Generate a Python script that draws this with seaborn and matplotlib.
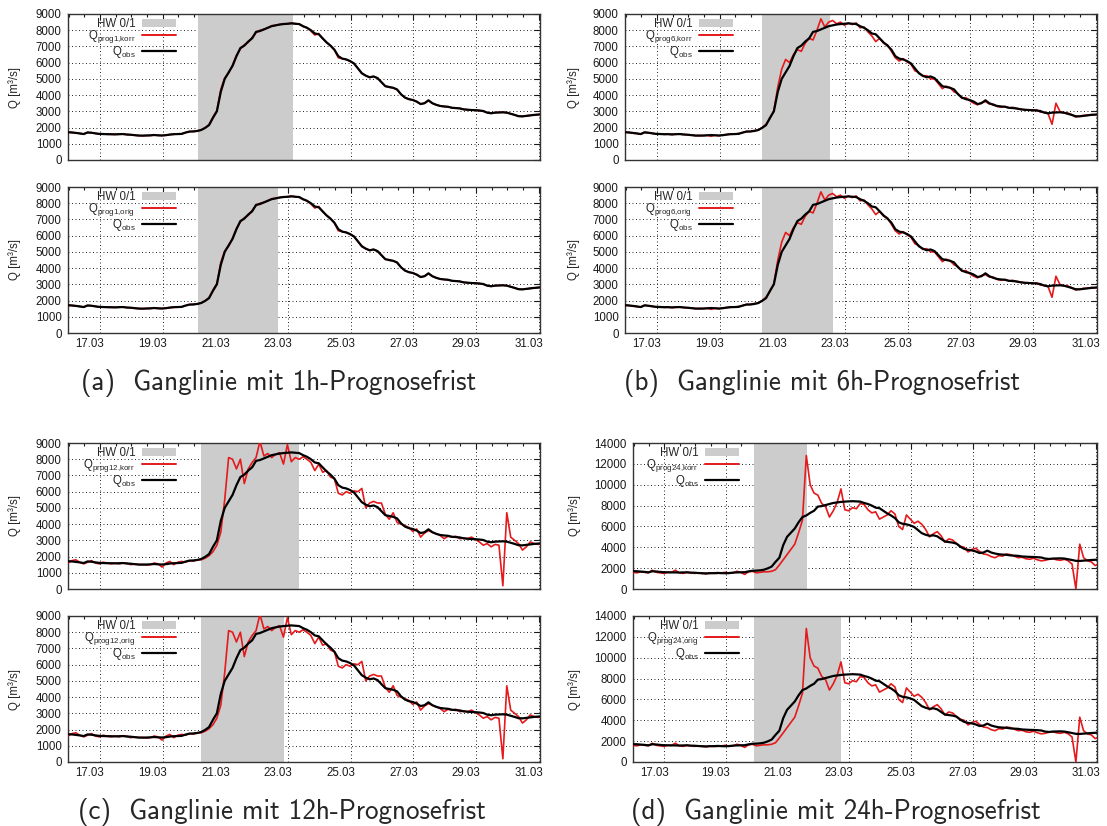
import numpy as np
import pandas as pd
import matplotlib
matplotlib.use("Agg")
import matplotlib.pyplot as plt
import matplotlib.transforms as mtransforms
from matplotlib.ticker import FixedLocator, FixedFormatter, MultipleLocator
from matplotlib.patches import Patch
from matplotlib.lines import Line2D
import seaborn as sns

# ---------------- data (3-hourly values, start 16.03 ~07:00) ----------------
q_obs = [
    1710, 1700, 1670, 1640, 1600, 1700,
    1680, 1640, 1610, 1600, 1590, 1590, 1580, 1590,
    1600, 1570, 1560, 1530, 1510, 1500, 1510, 1520,
    1540, 1520, 1510, 1530, 1570, 1590, 1600, 1610,
    1690, 1750, 1760, 1790, 1850, 1980, 2150, 2600,
    3000, 4200, 5000, 5400, 5800, 6400, 6900, 7050,
    7300, 7500, 7900, 7950, 8050, 8150, 8250, 8300,
    8350, 8380, 8400, 8420, 8400, 8380, 8250, 8150,
    8000, 7800, 7750, 7500, 7250, 7050, 6800, 6400,
    6250, 6200, 6100, 5950, 5650, 5350, 5200, 5100,
    5150, 5050, 4800, 4550, 4500, 4450, 4350, 4050,
    3850, 3750, 3700, 3600, 3450, 3500, 3680, 3500,
    3400, 3330, 3300, 3280, 3220, 3200, 3180, 3120,
    3100, 3080, 3070, 3050, 3020, 2920, 2880, 2920,
    2930, 2940, 2920, 2850, 2780, 2700, 2690, 2720,
    2750, 2780, 2800, 2820,
]

q_prog1 = [
    1710, 1690, 1670, 1630, 1600, 1690,
    1680, 1640, 1600, 1600, 1590, 1580, 1580, 1590,
    1600, 1570, 1550, 1530, 1500, 1500, 1510, 1510,
    1540, 1520, 1510, 1530, 1560, 1590, 1600, 1610,
    1690, 1760, 1760, 1790, 1860, 1970, 2180, 2650,
    3050, 4350, 5050, 5350, 5850, 6450, 6850, 7100,
    7250, 7550, 7850, 8000, 8050, 8150, 8280, 8300,
    8350, 8400, 8380, 8450, 8400, 8380, 8230, 8150,
    7950, 7700, 7800, 7480, 7250, 7050, 6780, 6300,
    6250, 6200, 6080, 5950, 5650, 5330, 5200, 5080,
    5150, 5050, 4800, 4550, 4480, 4450, 4330, 4050,
    3850, 3750, 3700, 3600, 3450, 3500, 3660, 3500,
    3400, 3330, 3300, 3280, 3220, 3200, 3180, 3120,
    3100, 3080, 3070, 3050, 3000, 2920, 2880, 2920,
    2930, 2940, 2920, 2850, 2780, 2700, 2690, 2720,
    2750, 2780, 2800, 2820,
]

q_prog6 = [
    1720, 1690, 1650, 1630, 1590, 1720,
    1670, 1650, 1590, 1620, 1580, 1600, 1560, 1600,
    1590, 1580, 1540, 1550, 1490, 1520, 1500, 1530,
    1460, 1540, 1490, 1550, 1560, 1620, 1590, 1640,
    1680, 1770, 1750, 1820, 1830, 2000, 2200, 2550,
    3050, 4500, 5600, 6200, 6000, 6500, 6800, 6700,
    7200, 7500, 7400, 8000, 8700, 8200, 8500, 8600,
    8400, 8500, 8300, 8450, 8350, 8450, 8150, 8200,
    7900, 7650, 7300, 7500, 7200, 7100, 6700, 6300,
    6100, 6250, 6050, 5900, 5500, 5400, 5150, 5200,
    5000, 5000, 4700, 4400, 4550, 4450, 4200, 4100,
    3800, 3850, 3650, 3500, 3400, 3550, 3600, 3450,
    3450, 3300, 3250, 3300, 3200, 3250, 3150, 3150,
    3080, 3100, 3050, 3100, 2950, 2950, 2850, 2200,
    3500, 3000, 2900, 2900, 2800, 2650, 2700, 2750,
    2760, 2800, 2780, 2820,
]

q_prog12 = [
    1600, 1750, 1800, 1650, 1550, 1650,
    1750, 1600, 1550, 1650, 1600, 1550, 1600, 1550,
    1600, 1600, 1500, 1550, 1500, 1520, 1480, 1500,
    1600, 1550, 1350, 1600, 1700, 1500, 1650, 1700,
    1650, 1750, 1720, 1800, 1800, 1900, 2050, 2300,
    2700, 3500, 5500, 8100, 8000, 7400, 8000, 6500,
    7400, 7800, 8100, 9100, 8200, 8350, 8100, 8300,
    8400, 7700, 8900, 7850, 8100, 8000, 8150, 8000,
    7800, 7300, 7700, 7200, 7300, 6900, 6800, 5900,
    5800, 6000, 5900, 6050, 6000, 6200, 5000, 5300,
    5400, 5300, 5300, 4600, 4300, 4700, 4100, 4000,
    3900, 3800, 3550, 3700, 3200, 3450, 3600, 3500,
    3400, 3300, 3100, 3250, 3200, 3250, 3100, 3150,
    3100, 3200, 3050, 2900, 2700, 2800, 2600, 2750,
    2700, 200, 4700, 3200, 3000, 2800, 2400, 2600,
    2900, 2800, 2750, 2800,
]

q_prog24 = [
    1600, 1550, 1650, 1600, 1550, 1800,
    1600, 1550, 1500, 1600, 1600, 1800, 1550, 1500,
    1600, 1550, 1500, 1550, 1500, 1450, 1550, 1500,
    1500, 1550, 1600, 1500, 1550, 1700, 1600, 1400,
    1650, 1700, 1550, 1600, 1650, 1650, 1700, 1850,
    2300, 2800, 3300, 3800, 4300, 5400, 6600, 12800,
    10000, 9200, 9000, 8200, 7900, 6900, 7500, 8300,
    9600, 7600, 7500, 7800, 7700, 8200, 8100, 7600,
    7300, 7400, 6700, 6900, 7100, 7500, 7200, 6000,
    5700, 7100, 6700, 6300, 6500, 6200, 5700, 5000,
    5300, 5500, 5100, 4500, 4800, 4700, 4350, 4100,
    4000, 3550, 3800, 3900, 3600, 3350, 3300, 3100,
    3000, 3200, 3150, 3350, 3300, 3150, 3000, 3050,
    2900, 2850, 2950, 2800, 2700, 2750, 2850, 2900,
    2800, 2750, 2850, 2700, 2400, 0, 4300, 3000,
    2700, 2600, 2250, 2400,
]

lead_times = ["1", "6", "12", "24"]
variants = ["korr", "orig"]
# HW 0/1 flag periods (day of March, start / end)
hw_periods = {
    ("1", "korr"): (20.45, 23.48), ("1", "orig"): (20.45, 23.00),
    ("6", "korr"): (20.67, 22.84), ("6", "orig"): (20.67, 22.94),
    ("12", "korr"): (20.54, 23.66), ("12", "orig"): (20.54, 23.18),
    ("24", "korr"): (20.23, 21.94), ("24", "orig"): (20.23, 23.05),
}
xtick_labels = ["17.03", "19.03", "21.03", "23.03", "25.03", "27.03", "29.03", "31.03"]
captions = {
    "1": "(a)  Ganglinie mit 1h-Prognosefrist",
    "6": "(b)  Ganglinie mit 6h-Prognosefrist",
    "12": "(c)  Ganglinie mit 12h-Prognosefrist",
    "24": "(d)  Ganglinie mit 24h-Prognosefrist",
}
ylabel_text = "Q [m³/s]"

forecasts = {"1": q_prog1, "6": q_prog6, "12": q_prog12, "24": q_prog24}
t_days = 16.30 + np.arange(len(q_obs)) * 3 / 24.0

# ---------------- style ----------------
sns.set_style("white")
plt.rcParams["font.family"] = ["Liberation Sans", "DejaVu Sans"]
plt.rcParams["mathtext.fontset"] = "custom"
plt.rcParams["mathtext.rm"] = "Liberation Sans"
plt.rcParams["mathtext.it"] = "Liberation Sans:italic"
plt.rcParams["mathtext.bf"] = "Liberation Sans:bold"

RED = "#e41a1c"
GRAY = "#cccccc"
FS = 8.3

W, H = 1107, 826
fig = plt.figure(figsize=(W / 100, H / 100), dpi=100)

# pixel boxes (x0, x1, y0, y1), y-max, y-step, ylabel x (axes coords)
layout = {
    ("1", "korr"): ((68, 540, 14, 160), 9000, 1000, -0.114),
    ("1", "orig"): ((68, 540, 187, 333), 9000, 1000, -0.114),
    ("6", "korr"): ((625, 1097, 14, 160), 9000, 1000, -0.108),
    ("6", "orig"): ((625, 1097, 187, 333), 9000, 1000, -0.108),
    ("12", "korr"): ((68, 540, 443, 589), 9000, 1000, -0.114),
    ("12", "orig"): ((68, 540, 616, 762), 9000, 1000, -0.114),
    ("24", "korr"): ((633, 1097, 443, 589), 14000, 2000, -0.125),
    ("24", "orig"): ((633, 1097, 616, 762), 14000, 2000, -0.125),
}

label_shift = mtransforms.ScaledTranslation(-10 / 100, 0, fig.dpi_scale_trans)

for lead in lead_times:
    for var in variants:
        (x0, x1, y0, y1), ymax, ystep, ylx = layout[(lead, var)]
        ax = fig.add_axes([x0 / W, 1 - y1 / H, (x1 - x0) / W, (y1 - y0) / H])
        ax.set_axisbelow(True)
        hs, he = hw_periods[(lead, var)]
        ax.axvspan(hs, he, color=GRAY, lw=0, zorder=1)
        sns.lineplot(x=t_days, y=forecasts[lead], ax=ax, color=RED, lw=1.2,
                     errorbar=None, zorder=3)
        sns.lineplot(x=t_days, y=q_obs, ax=ax, color="black", lw=1.6,
                     errorbar=None, zorder=4)
        ax.set_xlim(16.30, 31.36)
        ax.set_ylim(0, ymax)
        ax.xaxis.set_major_locator(FixedLocator(np.arange(17.32, 31.4, 2.0)))
        ax.xaxis.set_minor_locator(FixedLocator(np.arange(16.32, 31.4, 0.5)))
        ax.xaxis.set_major_formatter(FixedFormatter(xtick_labels))
        ax.yaxis.set_major_locator(MultipleLocator(ystep))
        ax.grid(True, which="major", color="#222222", lw=0.7, ls=(0, (1, 2.6)))
        ax.tick_params(which="both", direction="in", top=True, right=True,
                       labelsize=FS, colors="#1a1a1a", width=0.8)
        ax.tick_params(which="major", length=4)
        ax.tick_params(which="minor", length=2.5)
        ax.tick_params(axis="y", pad=4.5)
        ax.tick_params(axis="x", pad=3.5, labelbottom=(var == "orig"))
        for lbl in ax.get_xticklabels():
            lbl.set_transform(lbl.get_transform() + label_shift)
        for sp in ax.spines.values():
            sp.set_color("#333333")
            sp.set_linewidth(1.0)
        ax.set_xlabel("")
        ax.set_ylabel(ylabel_text, fontsize=FS, va="center")
        ax.yaxis.set_label_coords(ylx, 0.5)

        handles = [Patch(facecolor=GRAY, edgecolor="none"),
                   Line2D([], [], color=RED, lw=1.4),
                   Line2D([], [], color="black", lw=1.6)]
        labels = ["HW 0/1",
                  r"Q$_{\mathrm{prog" + lead + "{,}" + var + "}}$",
                  r"Q$_{\mathrm{obs}}$"]
        leg = ax.legend(handles, labels, loc="upper right",
                        bbox_to_anchor=(0.228, 0.975), frameon=False,
                        markerfirst=False, fontsize=FS, handlelength=2.9,
                        handletextpad=0.6, labelspacing=-0.1, borderpad=0,
                        borderaxespad=0)
        leg.set_zorder(5)

cap_pos = {"1": (279, 383), "6": (822, 383), "12": (282, 812), "24": (836, 812)}
for lead in lead_times:
    cx, cy = cap_pos[lead]
    fig.text(cx / W, 1 - cy / H, captions[lead], ha="center", va="center",
             fontsize=19.5, family="cmss10")

fig.savefig("out.png", dpi=100)
